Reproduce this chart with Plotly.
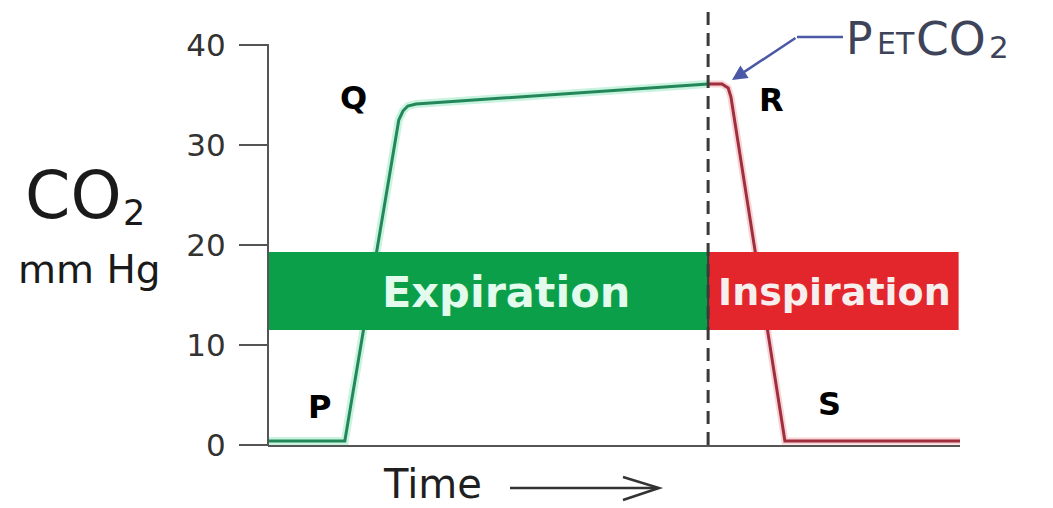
import plotly.graph_objects as go

# ---- Data (time in arbitrary units 0-100, CO2 in mm Hg) ----
exp_time = [0, 11.1, 18.9, 19.5, 20.2, 21.4, 63.6]
exp_co2 = [0.4, 0.4, 32.5, 33.4, 33.9, 34.1, 36.1]
insp_time = [63.6, 65.6, 66.5, 66.9, 74.7, 100]
insp_co2 = [36.1, 36.1, 35.7, 34.8, 0.4, 0.4]

phase_names = ["Expiration", "Inspiration"]
phase_start = [0, 63.6]
phase_end = [63.6, 99.8]
band_low = 11.5
band_high = 19.3

point_labels = ["P", "Q", "R", "S"]
point_time = [7.5, 12.4, 72.7, 81.2]
point_co2 = [3.8, 34.7, 34.5, 4.1]

y_ticks = [0, 10, 20, 30, 40]
petco2_time = 67.05
petco2_value = 36.5

# ---- Layout geometry (page body has an 8px margin) ----
OFF = 8
W, H = 1053 - OFF, 508 - OFF
PLOT_X0, PLOT_X1 = 268, 960      # screen px
PLOT_Y0, PLOT_Y1 = 10, 445       # screen px (top, bottom)
L = PLOT_X0 - OFF
R = W - (PLOT_X1 - OFF)
T = PLOT_Y0 - OFF
B = H - (PLOT_Y1 - OFF)
PW = PLOT_X1 - PLOT_X0
PH = PLOT_Y1 - PLOT_Y0


def px(x):
    return (x - PLOT_X0) / PW


def py(y):
    return (PLOT_Y1 - y) / PH


GREEN_LINE = "#23875a"
RED_LINE = "#a02f3d"
GREEN_BAR = "#0c9f4a"
RED_BAR = "#e2262c"
AXIS = "#555555"

fig = go.Figure()

# halos
fig.add_trace(go.Scatter(x=exp_time, y=exp_co2, mode="lines",
                         line=dict(color="#c8f3df", width=8), hoverinfo="skip", showlegend=False))
fig.add_trace(go.Scatter(x=insp_time, y=insp_co2, mode="lines",
                         line=dict(color="#f7d3d6", width=7), hoverinfo="skip", showlegend=False))
# waveform
fig.add_trace(go.Scatter(x=exp_time, y=exp_co2, mode="lines", name="Expiration",
                         line=dict(color=GREEN_LINE, width=3), showlegend=False))
fig.add_trace(go.Scatter(x=insp_time, y=insp_co2, mode="lines", name="Inspiration",
                         line=dict(color=RED_LINE, width=3), showlegend=False))

shapes = []
# phase bands
for name, s, e, col in zip(phase_names, phase_start, phase_end, [GREEN_BAR, RED_BAR]):
    shapes.append(dict(type="rect", xref="x", yref="y", x0=s, x1=e, y0=band_low, y1=band_high,
                       fillcolor=col, line=dict(width=0), layer="above"))
# seam between the bands
shapes.append(dict(type="line", xref="x", yref="y", x0=phase_start[1], x1=phase_start[1],
                   y0=band_low, y1=band_high, line=dict(color="#3a3a3a", width=2), layer="above"))
# dashed end-of-expiration line
shapes.append(dict(type="line", xref="x", yref="y", x0=phase_start[1], x1=phase_start[1],
                   y0=0, y1=43.5, line=dict(color="#3a3a3a", width=3, dash="13px,8px"), layer="above"))
# y-axis line (0 to 40)
shapes.append(dict(type="line", xref="paper", yref="paper", x0=0, x1=0, y0=py(446), y1=py(44),
                   line=dict(color=AXIS, width=2)))
# PETCO2 pointer horizontal segment
shapes.append(dict(type="line", xref="paper", yref="paper", x0=px(797), x1=px(843), y0=py(37), y1=py(37),
                   line=dict(color="#4a58a6", width=2.5)))
# Time arrow
shapes.append(dict(type="line", xref="paper", yref="paper", x0=px(510), x1=px(658), y0=py(488), y1=py(488),
                   line=dict(color="#333333", width=2.5)))
shapes.append(dict(type="path", xref="paper", yref="paper",
                   path=f"M {px(623)} {py(477)} L {px(659)} {py(488)} L {px(623)} {py(500)}",
                   line=dict(color="#333333", width=2.5)))

annotations = []


def ann(text, x, y, size, color, bold=False, family="DejaVu Sans", xanchor="center"):
    return dict(text=text, x=px(x), y=py(y), xref="paper", yref="paper", xanchor=xanchor,
                yanchor="middle", showarrow=False, borderpad=0,
                font=dict(family=family, size=size, color=color, weight="bold" if bold else "normal"))


# band labels
annotations.append(dict(text=phase_names[0], x=(phase_start[0] + phase_end[0]) / 2 + 2.6,
                        y=(band_low + band_high) / 2 - 0.1, xref="x", yref="y", showarrow=False,
                        font=dict(family="DejaVu Sans", size=43, color="#e2fbed", weight="bold")))
annotations.append(dict(text=phase_names[1], x=(phase_start[1] + phase_end[1]) / 2 + 0.1,
                        y=(band_low + band_high) / 2 - 0.1, xref="x", yref="y", showarrow=False,
                        font=dict(family="DejaVu Sans", size=38, color="#f7efee", weight="bold")))
# P Q R S
for lab, t, v in zip(point_labels, point_time, point_co2):
    annotations.append(dict(text=lab, x=t, y=v, xref="x", yref="y", showarrow=False,
                            font=dict(family="DejaVu Sans", size=32, color="#000000", weight="bold")))
# PETCO2 arrow
annotations.append(dict(text="", x=petco2_time, y=petco2_value, xref="x", yref="y",
                        ax=65, ay=-43, showarrow=True, arrowhead=2, arrowsize=1.2,
                        arrowwidth=2.5, arrowcolor="#4a58a6", standoff=0))
# PETCO2 text
PC = "#3d4359"
annotations.append(ann("P", 845, 38, 44, PC, xanchor="left"))
annotations.append(ann("ET", 876, 43, 30, PC, xanchor="left"))
annotations.append(ann("CO", 915, 38, 47, PC, xanchor="left"))
annotations.append(ann("2", 988, 47, 31, PC, xanchor="left"))
# y-axis label
annotations.append(ann("CO", 24, 196, 65, "#1a1a1a", xanchor="left"))
annotations.append(ann("2", 122, 212.5, 35, "#1a1a1a", xanchor="left"))
annotations.append(ann("mm Hg", 89, 269.5, 39, "#1a1a1a"))
# x-axis label
annotations.append(ann("Time", 432, 484, 40, "#1f1f1f"))

fig.update_layout(
    width=W, height=H,
    margin=dict(l=L, r=R, t=T, b=B, pad=0),
    paper_bgcolor="white", plot_bgcolor="white",
    showlegend=False,
    shapes=shapes, annotations=annotations,
    xaxis=dict(range=[0, 100], showline=True, linecolor=AXIS, linewidth=2, showgrid=False,
               zeroline=False, showticklabels=False, ticks="", fixedrange=True),
    yaxis=dict(range=[0, PH / 10], showline=False, showgrid=False, zeroline=False,
               tickmode="array", tickvals=y_ticks, ticktext=[str(v) for v in y_ticks],
               ticks="outside", ticklen=28, tickwidth=2, tickcolor=AXIS,
               ticklabelstandoff=7, automargin=False,
               tickfont=dict(family="DejaVu Sans", size=31, color="#333333"), fixedrange=True),
)

fig.write_html("out.html")
